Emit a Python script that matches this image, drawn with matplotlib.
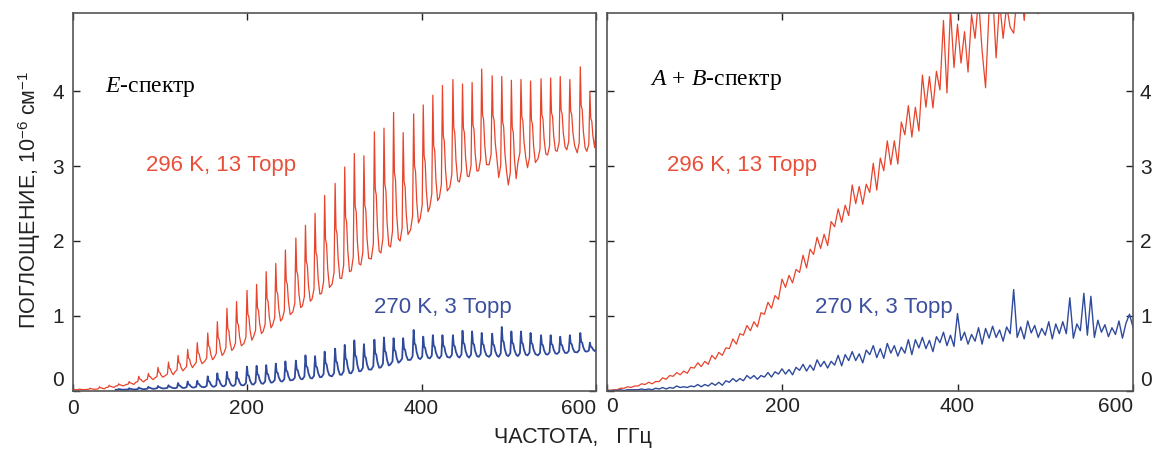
import numpy as np
import matplotlib
matplotlib.use('Agg')
import matplotlib.pyplot as plt

plt.rcParams['font.family'] = ['Liberation Sans', 'DejaVu Sans']
plt.rcParams['mathtext.fontset'] = 'custom'
plt.rcParams['mathtext.rm'] = 'Liberation Serif'
plt.rcParams['mathtext.it'] = 'Liberation Serif:italic'
plt.rcParams['mathtext.sf'] = 'Liberation Sans'

# -----------------------------
# E-spectrum: line positions (GHz) and heights (1e-6 cm^-1)
# -----------------------------
e_peak_freq = [8, 20, 31, 42, 53, 65, 76, 87, 98, 110, 121, 132, 143, 155, 166,
               177, 188, 200, 211, 222, 233, 244, 256, 267, 278, 289, 301, 312,
               323, 334, 346, 357, 368, 379, 391, 402, 413, 424, 436, 447, 458,
               469, 481, 492, 503, 514, 525, 537, 548, 559, 570, 582, 593]

e_red_peak = [0.02, 0.03, 0.05, 0.07, 0.09, 0.12, 0.19, 0.23, 0.31, 0.38, 0.47,
              0.55, 0.64, 0.77, 0.92, 1.10, 1.19, 1.34, 1.42, 1.59, 1.70, 1.88,
              2.04, 2.21, 2.37, 2.61, 2.77, 2.99, 3.17, 3.14, 3.46, 3.51, 3.72,
              3.45, 3.70, 3.82, 3.95, 4.08, 4.16, 4.10, 4.12, 4.30, 4.21, 4.20,
              4.15, 4.16, 4.14, 4.17, 4.18, 4.20, 4.16, 4.33, 4.00]
e_red_trough = [0.01, 0.015, 0.02, 0.04, 0.06, 0.08, 0.11, 0.14, 0.17, 0.20, 0.25,
                0.29, 0.34, 0.39, 0.44, 0.50, 0.56, 0.63, 0.72, 0.79, 0.88, 0.96,
                1.05, 1.13, 1.22, 1.30, 1.42, 1.50, 1.60, 1.68, 1.76, 1.84, 1.92,
                2.00, 2.15, 2.30, 2.45, 2.58, 2.72, 2.79, 2.86, 2.94, 3.02, 2.85,
                2.75, 3.05, 2.98, 3.10, 3.15, 3.20, 3.22, 3.18, 3.20]
e_red_end = 3.48

# blue (270 K) starts from the 5th line
e_blue_peak = [0.02, 0.03, 0.04, 0.05, 0.06, 0.07, 0.10, 0.12, 0.13, 0.19, 0.23,
               0.25, 0.25, 0.32, 0.33, 0.34, 0.36, 0.39, 0.40, 0.47, 0.46, 0.52,
               0.56, 0.61, 0.67, 0.62, 0.68, 0.71, 0.70, 0.70, 0.81, 0.72, 0.74,
               0.74, 0.74, 0.80, 0.79, 0.77, 0.76, 0.85, 0.79, 0.79, 0.77, 0.74,
               0.74, 0.72, 0.74, 0.77, 0.64]
e_blue_trough = [0.01, 0.012, 0.015, 0.02, 0.025, 0.03, 0.03, 0.035, 0.04, 0.045,
                 0.05, 0.055, 0.06, 0.07, 0.08, 0.09, 0.11, 0.12, 0.14, 0.15,
                 0.16, 0.18, 0.19, 0.21, 0.23, 0.26, 0.28, 0.31, 0.35, 0.39,
                 0.41, 0.42, 0.43, 0.43, 0.44, 0.44, 0.44, 0.45, 0.45, 0.45,
                 0.46, 0.46, 0.47, 0.47, 0.48, 0.49, 0.50, 0.51, 0.52]
e_blue_end = 0.55

# -----------------------------
# A+B-spectrum: sampled every 4 GHz
# -----------------------------
ab_freq = np.arange(0, 601, 4)
ab_red = [0.01, 0.00, 0.01, 0.01, 0.03, 0.03, 0.05, 0.04, 0.06, 0.06,
          0.09, 0.08, 0.11, 0.09, 0.12, 0.12, 0.17, 0.15, 0.20, 0.19,
          0.24, 0.21, 0.26, 0.23, 0.31, 0.30, 0.37, 0.32, 0.39, 0.35,
          0.47, 0.42, 0.51, 0.47, 0.57, 0.56, 0.69, 0.62, 0.76, 0.74,
          0.87, 0.80, 0.92, 0.85, 1.04, 1.02, 1.18, 1.10, 1.27, 1.22,
          1.49, 1.38, 1.54, 1.44, 1.62, 1.58, 1.81, 1.64, 1.89, 1.82,
          2.05, 1.90, 2.09, 1.94, 2.26, 2.19, 2.43, 2.25, 2.48, 2.34,
          2.75, 2.50, 2.73, 2.49, 2.76, 2.65, 3.04, 2.68, 3.11, 2.94,
          3.34, 3.02, 3.34, 3.03, 3.59, 3.42, 3.81, 3.39, 3.79, 3.47,
          4.22, 3.79, 4.20, 3.78, 4.27, 4.02, 4.95, 3.98, 5.10, 4.32,
          4.90, 4.38, 4.80, 4.26, 5.03, 4.71, 5.24, 4.55, 4.05, 5.10,
          5.33, 4.45, 5.20, 4.71, 5.15, 4.86, 4.78, 5.30, 5.47, 4.95,
          5.49, 5.13, 5.40, 5.04, 5.55, 5.34, 5.70, 5.25, 5.61, 5.25,
          5.85, 5.49, 5.76, 5.40, 5.73, 5.52, 6.00, 5.46, 6.00, 5.70,
          6.09, 5.73, 6.00, 5.64, 6.15, 5.96, 6.27, 5.84, 6.18, 5.86,
          6.10]
ab_blue = [0.00, 0.00, 0.00, 0.00, 0.01, 0.00, 0.01, 0.01, 0.01, 0.01,
           0.02, 0.01, 0.02, 0.01, 0.03, 0.02, 0.04, 0.02, 0.04, 0.03,
           0.06, 0.04, 0.05, 0.04, 0.06, 0.05, 0.08, 0.05, 0.08, 0.06,
           0.10, 0.07, 0.11, 0.07, 0.13, 0.11, 0.16, 0.12, 0.16, 0.13,
           0.20, 0.16, 0.20, 0.15, 0.20, 0.18, 0.24, 0.18, 0.25, 0.22,
           0.29, 0.22, 0.28, 0.21, 0.31, 0.27, 0.35, 0.26, 0.34, 0.27,
           0.41, 0.32, 0.39, 0.30, 0.39, 0.34, 0.47, 0.33, 0.48, 0.40,
           0.52, 0.40, 0.49, 0.37, 0.54, 0.48, 0.60, 0.44, 0.56, 0.43,
           0.63, 0.50, 0.60, 0.46, 0.58, 0.50, 0.68, 0.48, 0.68, 0.57,
           0.71, 0.56, 0.67, 0.52, 0.72, 0.64, 0.78, 0.60, 0.74, 0.59,
           1.03, 0.67, 0.78, 0.62, 0.75, 0.66, 0.84, 0.62, 0.83, 0.70,
           0.86, 0.71, 0.81, 0.66, 0.85, 0.76, 1.35, 0.71, 0.85, 0.69,
           0.93, 0.77, 0.87, 0.71, 0.83, 0.74, 0.92, 0.69, 0.89, 0.76,
           0.92, 0.76, 1.24, 0.70, 0.89, 0.80, 1.30, 0.74, 1.26, 0.71,
           0.94, 0.78, 0.88, 0.72, 0.84, 0.75, 0.93, 0.70, 0.90, 1.02,
           0.85]

RED = '#e8432b'
BLUE = '#2f4a9c'
RED_TXT = '#e8503a'
BLUE_TXT = '#3b4f9e'
INK = '#222222'


def line_shape(freqs, peaks, troughs, end_val, start=None):
    # foot -> sharp peak -> shoulder -> slow decay, once per line
    xs, ys = [], []
    if start is not None:
        xs.append(start[0]); ys.append(start[1])
    for f, p, t in zip(freqs, peaks, troughs):
        h = p - t
        xs += [f - 3.5, f - 1.2, f, f + 1.0, f + 2.2, f + 3.5, f + 5.5]
        ys += [t, t + 0.12 * h, p, t + 0.55 * h, t + 0.5 * h, t + 0.25 * h, t + 0.06 * h]
    xs.append(600); ys.append(end_val)
    return np.array(xs), np.array(ys)


fig = plt.figure(figsize=(11.56, 4.51), dpi=100)
ax1 = fig.add_axes([72.5 / 1156, 1 - 390.5 / 451, 523.5 / 1156, 377.5 / 451])
ax2 = fig.add_axes([606.5 / 1156, 1 - 390.5 / 451, 526.5 / 1156, 377.5 / 451])

# left: E-spectrum
xr, yr = line_shape(e_peak_freq, e_red_peak, e_red_trough, e_red_end, start=(0, 0.01))
xb, yb = line_shape(e_peak_freq[4:], e_blue_peak, e_blue_trough, e_blue_end)
ax1.plot(xr, yr, color=RED, lw=0.9)
ax1.plot(xb, yb, color=BLUE, lw=1.3)

# right: A+B-spectrum
ax2.plot(ab_freq, ab_red, color=RED, lw=0.9)
ax2.plot(ab_freq, ab_blue, color=BLUE, lw=1.0)

for ax in (ax1, ax2):
    ax.set_xlim(0, 600)
    ax.set_ylim(0, 5.05)
    ax.set_xticks([0, 200, 400, 600])
    ax.set_yticks([0, 1, 2, 3, 4])
    ax.tick_params(direction='in', length=5, width=1, top=True, right=True,
                   labelsize=15, colors=INK, pad=6)
    for s in ax.spines.values():
        s.set_color('#555555')
        s.set_linewidth(1.2)

ax2.tick_params(labelleft=False, labelright=True, pad=5)

# nudge edge labels like the original
ax1.xaxis.get_major_ticks()[-1].label1.set_horizontalalignment('right')
ax2.xaxis.get_major_ticks()[0].label1.set_horizontalalignment('left')
ax2.xaxis.get_major_ticks()[-1].label1.set_horizontalalignment('right')
ax1.yaxis.get_major_ticks()[0].label1.set_verticalalignment('bottom')
ax2.yaxis.get_major_ticks()[0].label2.set_verticalalignment('bottom')

ax1.text(0.062, 0.804, r'$E$-спектр', transform=ax1.transAxes, fontsize=17,
         family='Liberation Serif', va='center', ha='left')
ax2.text(0.083, 0.8225, r'$A\,+\,B$-спектр', transform=ax2.transAxes, fontsize=17,
         family='Liberation Serif', va='center', ha='left')

ax1.text(0.284, 0.597, '296 K, 13 Торр', transform=ax1.transAxes, fontsize=16,
         color=RED_TXT, ha='center', va='center')
ax1.text(0.707, 0.221, '270 K, 3 Торр', transform=ax1.transAxes, fontsize=16,
         color=BLUE_TXT, ha='center', va='center')
ax2.text(0.257, 0.597, '296 K, 13 Торр', transform=ax2.transAxes, fontsize=16,
         color=RED_TXT, ha='center', va='center')
ax2.text(0.526, 0.221, '270 K, 3 Торр', transform=ax2.transAxes, fontsize=16,
         color=BLUE_TXT, ha='center', va='center')

fig.text(30 / 1156, 1 - 200 / 451, r'ПОГЛОЩЕНИЕ, 10$^{\mathsf{-6}}$ см$^{\mathsf{-1}}$',
         rotation=90, fontsize=15.5, ha='center', va='center', color=INK)
fig.text(573 / 1156, 1 - 437 / 451, 'ЧАСТОТА,   ГГц', fontsize=15.5,
         ha='center', va='center', color=INK)

fig.savefig('out.png', dpi=100)
